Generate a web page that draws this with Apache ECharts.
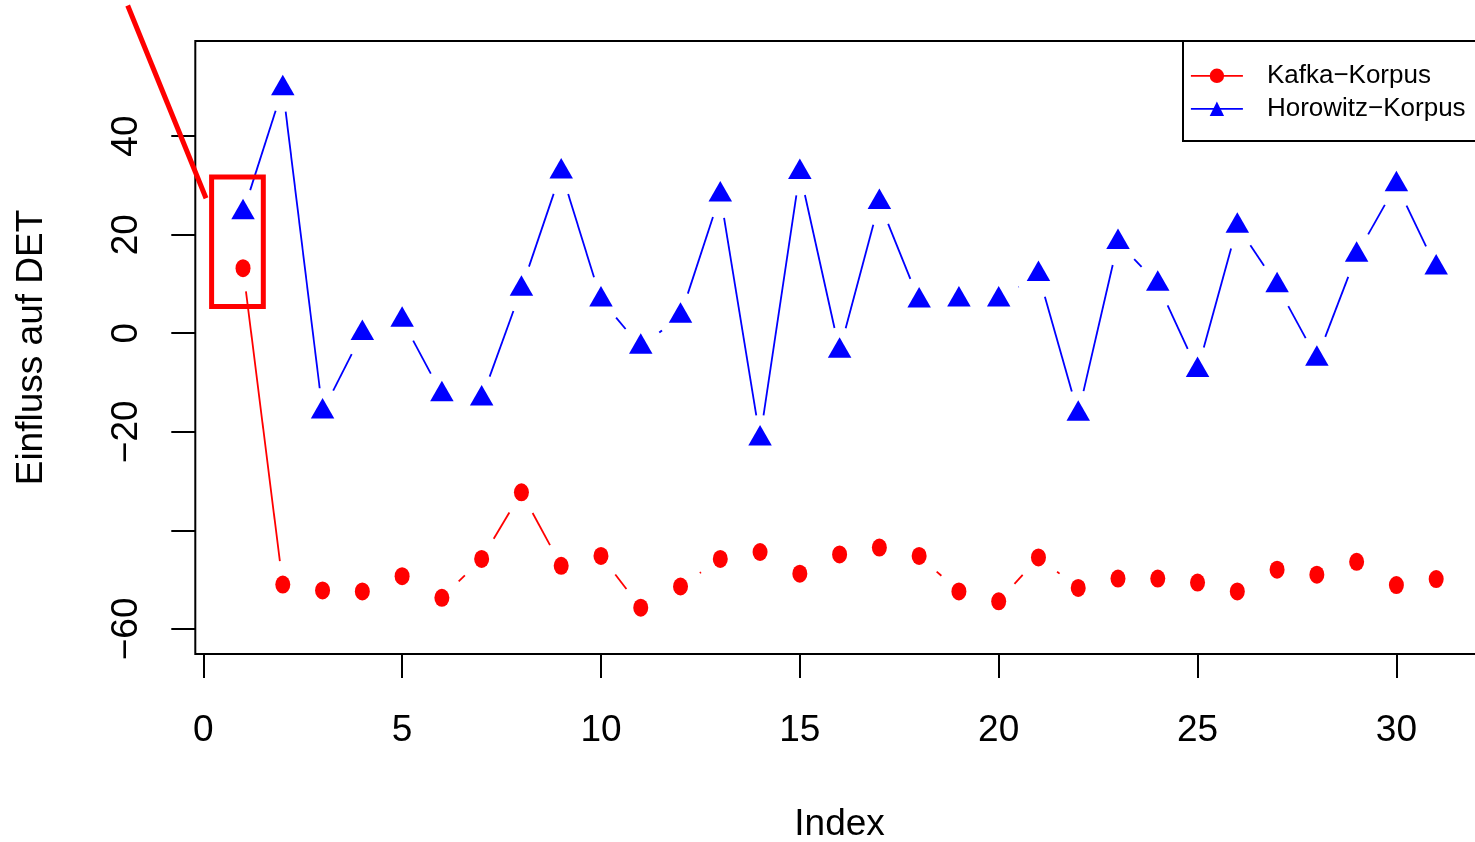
<!DOCTYPE html>
<html><head><meta charset="utf-8">
<script src="https://cdn.jsdelivr.net/npm/echarts@6/dist/echarts.min.js"></script>
<style>html,body{margin:0;padding:0;background:#fff;overflow:hidden}#c{width:1475px;height:842px}</style>
</head><body><div id="c"></div>
<script>
// ---- data ----
const indices = [1,2,3,4,5,6,7,8,9,10,11,12,13,14,15,16,17,18,19,20,21,22,23,24,25,26,27,28,29,30,31];
const kafka = [13.2,-51.0,-52.2,-52.4,-49.3,-53.7,-45.8,-32.3,-47.2,-45.2,-55.7,-51.4,-45.8,-44.4,-48.8,-44.9,-43.5,-45.2,-52.4,-54.4,-45.5,-51.7,-49.8,-49.8,-50.6,-52.4,-48.0,-49.0,-46.4,-51.1,-49.9];
const horowitz = [24.5,49.7,-15.9,0.0,2.7,-12.4,-13.3,9.0,32.8,6.8,-2.8,3.5,28.1,-21.4,32.7,-3.6,26.6,6.6,6.8,6.8,12.0,-16.4,18.5,10.0,-7.5,21.8,9.7,-5.2,15.9,30.2,13.3];
const seriesNames = ['Kafka\u2212Korpus', 'Horowitz\u2212Korpus'];
const xTicks = [0,5,10,15,20,25,30];
const yTicks = [-60,-40,-20,0,20,40];
const yLabels = [-60,-20,0,20,40];
const xTitle = 'Index';
const yTitle = 'Einfluss auf DET';
// annotation (highlight of first observation), in data coordinates
const highlightX = [0.21, 1.51];
const highlightY = [5.4, 31.7];
const pointerFrom = [-1.90, 66.5];
const pointerTo = [0.07, 27.4];

// ---- styles ----
const FONT = 'Liberation Sans, Arial, Helvetica, sans-serif';
const RED = '#ff0000', BLUE = '#0000ff';
const GAP = 23.5;
const LW = 1.8;

const pairs = arr => indices.map((x, i) => [x, arr[i]]);
const segs = arr => indices.slice(0, -1).map((x, i) => [x, arr[i], indices[i + 1], arr[i + 1]]);

function gapLines(color) {
  return function (params, api) {
    const p0 = api.coord([api.value(0), api.value(1)]);
    const p1 = api.coord([api.value(2), api.value(3)]);
    const dx = p1[0] - p0[0], dy = p1[1] - p0[1];
    const len = Math.hypot(dx, dy);
    if (len <= 2 * GAP) return { type: 'group', children: [] };
    const ux = dx / len, uy = dy / len;
    return {
      type: 'line',
      shape: { x1: p0[0] + ux * GAP, y1: p0[1] + uy * GAP, x2: p1[0] - ux * GAP, y2: p1[1] - uy * GAP },
      style: { stroke: color, lineWidth: LW }
    };
  };
}

const chart = echarts.init(document.getElementById('c'), null, { renderer: 'canvas' });
chart.setOption({
  animation: false,
  backgroundColor: '#fff',
  grid: { left: 195.3, top: 41, width: 1288.6, height: 613, show: true, borderColor: '#000', borderWidth: 2,
    backgroundColor: 'transparent', containLabel: false, outerBoundsMode: 'none' },
  xAxis: {
    type: 'value', min: -0.2, max: 32.2,
    axisLine: { show: false, onZero: false }, splitLine: { show: false },
    axisTick: { show: true, length: 24, lineStyle: { color: '#000', width: 2 }, customValues: xTicks },
    axisLabel: { customValues: xTicks, margin: 58, fontSize: 37, color: '#000', fontFamily: FONT },
    name: xTitle, nameLocation: 'middle', nameGap: 152,
    nameTextStyle: { fontSize: 37, color: '#000', fontFamily: FONT }
  },
  yAxis: {
    type: 'value', min: -65.1, max: 59.3,
    axisLine: { show: false, onZero: false }, splitLine: { show: false },
    axisTick: { show: true, length: 24, lineStyle: { color: '#000', width: 2 }, customValues: yTicks },
    axisLabel: { customValues: yLabels, rotate: 90, margin: 50, fontSize: 37, color: '#000', fontFamily: FONT,
      formatter: v => String(v).replace('-', '\u2212') },
    name: yTitle, nameLocation: 'middle', nameGap: 145, nameRotate: 90,
    nameTextStyle: { fontSize: 37, color: '#000', fontFamily: FONT }
  },
  legend: {
    orient: 'vertical', left: 1183, top: 41,
    padding: [21.3, 20, 18.7, 7],
    itemWidth: 52, itemHeight: 18, itemGap: 6,
    borderColor: '#000', borderWidth: 2,
    selectedMode: false,
    textStyle: { fontSize: 26, lineHeight: 27, color: '#000', fontFamily: FONT, padding: [0, 0, 0, 19] },
    lineStyle: { opacity: 1, width: LW },
    data: seriesNames
  },
  series: [
    { type: 'custom', name: 'kafkaLines', data: segs(kafka), encode: { x: [0, 2], y: [1, 3] }, renderItem: gapLines(RED), silent: true },
    { type: 'custom', name: 'horowitzLines', data: segs(horowitz), encode: { x: [0, 2], y: [1, 3] }, renderItem: gapLines(BLUE), silent: true },
    {
      type: 'line', name: seriesNames[0], data: pairs(kafka),
      symbol: 'circle', symbolSize: [15, 18], showAllSymbol: true,
      itemStyle: { color: RED }, lineStyle: { color: RED, opacity: 0 },
      emphasis: { disabled: true }, silent: true, z: 3
    },
    {
      type: 'line', name: seriesNames[1], data: pairs(horowitz),
      symbol: 'triangle', symbolSize: [23.5, 20.5], symbolOffset: [0, -3.4], showAllSymbol: true,
      itemStyle: { color: BLUE }, lineStyle: { color: BLUE, opacity: 0 },
      emphasis: { disabled: true }, silent: true, z: 3
    },
    {
      type: 'custom', name: 'annotation', data: [[0, 0]], clip: false, silent: true, z: 5,
      encode: { x: 0, y: 1 },
      renderItem: function (params, api) {
        const a = api.coord([highlightX[0], highlightY[1]]);
        const b = api.coord([highlightX[1], highlightY[0]]);
        const f = api.coord(pointerFrom);
        const t = api.coord(pointerTo);
        return {
          type: 'group',
          children: [
            { type: 'rect', shape: { x: a[0], y: a[1], width: b[0] - a[0], height: b[1] - a[1] },
              style: { fill: 'none', stroke: RED, lineWidth: 5 } },
            { type: 'line', shape: { x1: f[0], y1: f[1], x2: t[0], y2: t[1] },
              style: { stroke: RED, lineWidth: 5 } }
          ]
        };
      }
    }
  ]
});
</script></body></html>
